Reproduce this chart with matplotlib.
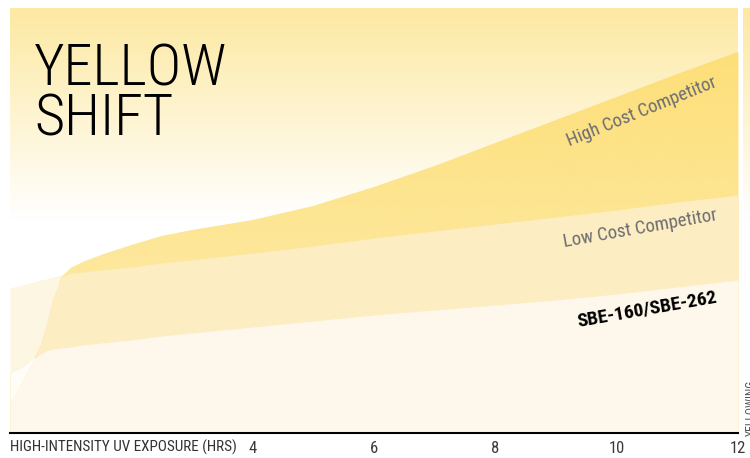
import numpy as np
import matplotlib.pyplot as plt
from matplotlib.colors import to_rgb

# yellowing vs high-intensity UV exposure (arbitrary yellowing units)
hours = [0, 0.2, 0.4, 0.5, 0.6, 0.7, 0.85, 1.0, 1.2, 1.5, 2, 2.5, 3,
         4, 5, 6, 7, 8, 9, 10, 11, 12]
high_cost = [60, 66, 76, 88, 108, 133, 156, 165, 171, 178, 188, 197, 203,
             213, 227, 246, 267, 290, 313, 336, 359, 381]
low_cost = [145, 148, 151, 153, 154, 156, 158, 160, 161, 163, 166, 170, 173,
            180, 187, 195, 202, 209, 216, 223, 231, 238]
sbe = [30, 52, 74, 79, 82, 84, 85, 86, 88, 90, 93, 97, 100,
       106, 112, 118, 123, 128, 133, 139, 146, 153]
tick_hours = [4, 6, 8, 10, 12]

NARROW = ['Roboto Condensed', 'DejaVu Sans']
plt.rcParams['font.family'] = NARROW
plt.rcParams['font.stretch'] = 'condensed'

x = np.array(hours)
hi = np.array(high_cost)
lo = np.array(low_cost)
sb = np.array(sbe)

fig = plt.figure(figsize=(7.5, 4.58), dpi=100)
ax = fig.add_axes([10/750, 25/458, 728/750, 425/458])


def fade(bottom, top, n=400, start=0.0):
    # vertical colour ramp, bottom -> top
    b = np.array(to_rgb(bottom))
    t_col = np.array(to_rgb(top))
    t = np.clip((np.linspace(0, 1, n) - start) / (1 - start), 0, 1)[:, None]
    col = (1 - t) * b + t * t_col
    return np.repeat(col[:, None, :], 2, axis=1)


ax.imshow(fade('white', '#fde9a2', start=0.5), extent=[0, 12, 0, 425],
          aspect='auto', origin='lower', zorder=0)

ax.fill_between(x, 0, lo, color='#fdf6e2', lw=0, zorder=1)
band = ax.fill_between(x, 0, hi, color='#fde58f', lw=0, zorder=2)
grad = ax.imshow(fade('#fde89e', '#fddf78'), extent=[0, 12, 150, 385],
                 aspect='auto', origin='lower', zorder=2.5)
grad.set_clip_path(band.get_paths()[0], transform=ax.transData)
ax.fill_between(x, 0, np.minimum(lo, hi), color='#fcedc3', lw=0, zorder=3)
ax.fill_between(x, sb, hi, where=x <= 0.4, color='#fffdf8', lw=0, zorder=4)
ax.fill_between(x, 0, sb, color='#fdf8eb', lw=0, zorder=5)
ax.set_xlim(0, 12)
ax.set_ylim(0, 425)

for s in ['top', 'left', 'right']:
    ax.spines[s].set_visible(False)
ax.spines['bottom'].set_linewidth(1.5)
ax.spines['bottom'].set_zorder(10)
ax.set_yticks([])
ax.set_xticks(tick_hours)
ax.set_xticklabels([str(h) for h in tick_hours])
ax.tick_params(axis='x', length=0, pad=6, labelsize=12, labelcolor='#3a3a3a')

fig.text(10/750, 1 - 447/458, 'HIGH-INTENSITY UV EXPOSURE (HRS)',
         fontsize=10.9, color='#333333', ha='left', va='center')

# title
fig.text(34/750, 1 - 135/458, 'YELLOW\nSHIFT', fontsize=42, weight='light',
         color='black', ha='left', va='baseline', linespacing=0.88)

# series labels
fig.text(642/750, 1 - 112/458, 'High Cost Competitor', fontsize=13.5,
         color='#6d6e71', rotation=22, ha='center', va='center',
         rotation_mode='anchor')
fig.text(640/750, 1 - 229/458, 'Low Cost Competitor', fontsize=13.5,
         color='#6d6e71', rotation=10, ha='center', va='center',
         rotation_mode='anchor')
fig.text(647/750, 1 - 309/458, 'SBE-160/SBE-262', fontsize=14,
         weight='bold', color='black', rotation=10,
         ha='center', va='center', rotation_mode='anchor')

# cropped side strip with the y label
side = fig.add_axes([743/750, 25/458, 10/750, 425/458])
side.imshow(fade('white', '#fde9a2', start=0.5), extent=[0, 1, 0, 1],
            aspect='auto', origin='lower')
side.axis('off')
fig.text(751/750, 1 - 408/458, 'YELLOWING', fontsize=8.5, color='#555555',
         rotation=90, ha='center', va='center')

plt.savefig('out.png', dpi=100)
